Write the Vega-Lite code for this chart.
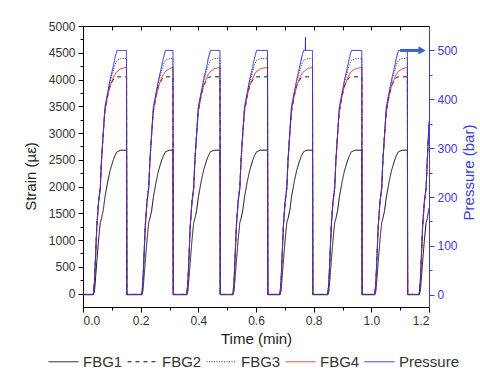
{
  "$schema": "https://vega.github.io/schema/vega-lite/v6.json",
  "width": 346,
  "height": 281,
  "autosize": {"type": "none"},
  "padding": {"left": 83, "top": 26, "right": 51, "bottom": 71},
  "background": "white",
  "config": {
    "view": {"stroke": null},
    "font": "Liberation Sans",
    "axis": {"grid": false, "labelFont": "Liberation Sans", "titleFont": "Liberation Sans", "tickColor": "#000", "domainColor": "#000", "labelFontSize": 12, "labelColor": "#333", "titleFontSize": 15, "titleFontWeight": "normal", "titleColor": "#222"},
    "legend": {"labelFont": "Liberation Sans"}
  },
  "datasets": {
    "s": [
      {"t": 0, "FBG1": -15, "FBG2": -15, "FBG3": -15, "FBG4": -15, "P": 0},
      {"t": 0.036, "FBG1": -15, "FBG2": -15, "FBG3": -15, "FBG4": -15, "P": 0},
      {"t": 0.040, "FBG1": 50, "FBG2": 230, "FBG3": 250, "FBG4": 220, "P": 30},
      {"t": 0.048, "FBG1": 600, "FBG2": 1280, "FBG3": 1300, "FBG4": 1250, "P": 140},
      {"t": 0.054, "FBG1": 1000, "FBG2": 1720, "FBG3": 1750, "FBG4": 1700, "P": 190},
      {"t": 0.060, "FBG1": 1330, "FBG2": 1980, "FBG3": 2000, "FBG4": 1950, "P": 220},
      {"t": 0.064, "FBG1": 1400, "FBG2": 2480, "FBG3": 2500, "FBG4": 2450, "P": 275},
      {"t": 0.070, "FBG1": 1550, "FBG2": 2980, "FBG3": 3000, "FBG4": 2950, "P": 330},
      {"t": 0.076, "FBG1": 1800, "FBG2": 3400, "FBG3": 3450, "FBG4": 3400, "P": 385},
      {"t": 0.086, "FBG1": 2100, "FBG2": 3700, "FBG3": 3750, "FBG4": 3700, "P": 415},
      {"t": 0.094, "FBG1": 2300, "FBG2": 3880, "FBG3": 3950, "FBG4": 3880, "P": 440},
      {"t": 0.104, "FBG1": 2480, "FBG2": 3990, "FBG3": 4150, "FBG4": 4020, "P": 465},
      {"t": 0.111, "FBG1": 2580, "FBG2": 4040, "FBG3": 4280, "FBG4": 4100, "P": 485},
      {"t": 0.118, "FBG1": 2650, "FBG2": 4050, "FBG3": 4360, "FBG4": 4150, "P": 500},
      {"t": 0.131, "FBG1": 2680, "FBG2": 4050, "FBG3": 4390, "FBG4": 4200, "P": 500},
      {"t": 0.151, "FBG1": 2680, "FBG2": 4050, "FBG3": 4400, "FBG4": 4230, "P": 500},
      {"t": 0.152, "FBG1": -15, "FBG2": -15, "FBG3": -15, "FBG4": -15, "P": 0},
      {"t": 0.204, "FBG1": -15, "FBG2": -15, "FBG3": -15, "FBG4": -15, "P": 0},
      {"t": 0.208, "FBG1": 50, "FBG2": 230, "FBG3": 250, "FBG4": 220, "P": 30},
      {"t": 0.216, "FBG1": 600, "FBG2": 1280, "FBG3": 1300, "FBG4": 1250, "P": 140},
      {"t": 0.222, "FBG1": 1000, "FBG2": 1720, "FBG3": 1750, "FBG4": 1700, "P": 190},
      {"t": 0.228, "FBG1": 1330, "FBG2": 1980, "FBG3": 2000, "FBG4": 1950, "P": 220},
      {"t": 0.232, "FBG1": 1400, "FBG2": 2480, "FBG3": 2500, "FBG4": 2450, "P": 275},
      {"t": 0.238, "FBG1": 1550, "FBG2": 2980, "FBG3": 3000, "FBG4": 2950, "P": 330},
      {"t": 0.244, "FBG1": 1800, "FBG2": 3400, "FBG3": 3450, "FBG4": 3400, "P": 385},
      {"t": 0.254, "FBG1": 2100, "FBG2": 3700, "FBG3": 3750, "FBG4": 3700, "P": 415},
      {"t": 0.262, "FBG1": 2300, "FBG2": 3880, "FBG3": 3950, "FBG4": 3880, "P": 440},
      {"t": 0.272, "FBG1": 2480, "FBG2": 3990, "FBG3": 4150, "FBG4": 4020, "P": 465},
      {"t": 0.279, "FBG1": 2580, "FBG2": 4040, "FBG3": 4280, "FBG4": 4100, "P": 485},
      {"t": 0.286, "FBG1": 2650, "FBG2": 4050, "FBG3": 4360, "FBG4": 4150, "P": 500},
      {"t": 0.299, "FBG1": 2680, "FBG2": 4050, "FBG3": 4390, "FBG4": 4200, "P": 500},
      {"t": 0.312, "FBG1": 2680, "FBG2": 4050, "FBG3": 4400, "FBG4": 4230, "P": 500},
      {"t": 0.313, "FBG1": -15, "FBG2": -15, "FBG3": -15, "FBG4": -15, "P": 0},
      {"t": 0.360, "FBG1": -15, "FBG2": -15, "FBG3": -15, "FBG4": -15, "P": 0},
      {"t": 0.364, "FBG1": 50, "FBG2": 230, "FBG3": 250, "FBG4": 220, "P": 30},
      {"t": 0.372, "FBG1": 600, "FBG2": 1280, "FBG3": 1300, "FBG4": 1250, "P": 140},
      {"t": 0.378, "FBG1": 1000, "FBG2": 1720, "FBG3": 1750, "FBG4": 1700, "P": 190},
      {"t": 0.384, "FBG1": 1330, "FBG2": 1980, "FBG3": 2000, "FBG4": 1950, "P": 220},
      {"t": 0.388, "FBG1": 1400, "FBG2": 2480, "FBG3": 2500, "FBG4": 2450, "P": 275},
      {"t": 0.394, "FBG1": 1550, "FBG2": 2980, "FBG3": 3000, "FBG4": 2950, "P": 330},
      {"t": 0.400, "FBG1": 1800, "FBG2": 3400, "FBG3": 3450, "FBG4": 3400, "P": 385},
      {"t": 0.410, "FBG1": 2100, "FBG2": 3700, "FBG3": 3750, "FBG4": 3700, "P": 415},
      {"t": 0.418, "FBG1": 2300, "FBG2": 3880, "FBG3": 3950, "FBG4": 3880, "P": 440},
      {"t": 0.428, "FBG1": 2480, "FBG2": 3990, "FBG3": 4150, "FBG4": 4020, "P": 465},
      {"t": 0.435, "FBG1": 2580, "FBG2": 4040, "FBG3": 4280, "FBG4": 4100, "P": 485},
      {"t": 0.442, "FBG1": 2650, "FBG2": 4050, "FBG3": 4360, "FBG4": 4150, "P": 500},
      {"t": 0.455, "FBG1": 2680, "FBG2": 4050, "FBG3": 4390, "FBG4": 4200, "P": 500},
      {"t": 0.475, "FBG1": 2680, "FBG2": 4050, "FBG3": 4400, "FBG4": 4230, "P": 500},
      {"t": 0.476, "FBG1": -15, "FBG2": -15, "FBG3": -15, "FBG4": -15, "P": 0},
      {"t": 0.520, "FBG1": -15, "FBG2": -15, "FBG3": -15, "FBG4": -15, "P": 0},
      {"t": 0.524, "FBG1": 50, "FBG2": 230, "FBG3": 250, "FBG4": 220, "P": 30},
      {"t": 0.532, "FBG1": 600, "FBG2": 1280, "FBG3": 1300, "FBG4": 1250, "P": 140},
      {"t": 0.538, "FBG1": 1000, "FBG2": 1720, "FBG3": 1750, "FBG4": 1700, "P": 190},
      {"t": 0.544, "FBG1": 1330, "FBG2": 1980, "FBG3": 2000, "FBG4": 1950, "P": 220},
      {"t": 0.548, "FBG1": 1400, "FBG2": 2480, "FBG3": 2500, "FBG4": 2450, "P": 275},
      {"t": 0.554, "FBG1": 1550, "FBG2": 2980, "FBG3": 3000, "FBG4": 2950, "P": 330},
      {"t": 0.560, "FBG1": 1800, "FBG2": 3400, "FBG3": 3450, "FBG4": 3400, "P": 385},
      {"t": 0.570, "FBG1": 2100, "FBG2": 3700, "FBG3": 3750, "FBG4": 3700, "P": 415},
      {"t": 0.578, "FBG1": 2300, "FBG2": 3880, "FBG3": 3950, "FBG4": 3880, "P": 440},
      {"t": 0.588, "FBG1": 2480, "FBG2": 3990, "FBG3": 4150, "FBG4": 4020, "P": 465},
      {"t": 0.595, "FBG1": 2580, "FBG2": 4040, "FBG3": 4280, "FBG4": 4100, "P": 485},
      {"t": 0.602, "FBG1": 2650, "FBG2": 4050, "FBG3": 4360, "FBG4": 4150, "P": 500},
      {"t": 0.615, "FBG1": 2680, "FBG2": 4050, "FBG3": 4390, "FBG4": 4200, "P": 500},
      {"t": 0.640, "FBG1": 2680, "FBG2": 4050, "FBG3": 4400, "FBG4": 4230, "P": 500},
      {"t": 0.641, "FBG1": -15, "FBG2": -15, "FBG3": -15, "FBG4": -15, "P": 0},
      {"t": 0.683, "FBG1": -15, "FBG2": -15, "FBG3": -15, "FBG4": -15, "P": 0},
      {"t": 0.687, "FBG1": 50, "FBG2": 230, "FBG3": 250, "FBG4": 220, "P": 30},
      {"t": 0.695, "FBG1": 600, "FBG2": 1280, "FBG3": 1300, "FBG4": 1250, "P": 140},
      {"t": 0.701, "FBG1": 1000, "FBG2": 1720, "FBG3": 1750, "FBG4": 1700, "P": 190},
      {"t": 0.707, "FBG1": 1330, "FBG2": 1980, "FBG3": 2000, "FBG4": 1950, "P": 220},
      {"t": 0.711, "FBG1": 1400, "FBG2": 2480, "FBG3": 2500, "FBG4": 2450, "P": 275},
      {"t": 0.717, "FBG1": 1550, "FBG2": 2980, "FBG3": 3000, "FBG4": 2950, "P": 330},
      {"t": 0.723, "FBG1": 1800, "FBG2": 3400, "FBG3": 3450, "FBG4": 3400, "P": 385},
      {"t": 0.733, "FBG1": 2100, "FBG2": 3700, "FBG3": 3750, "FBG4": 3700, "P": 415},
      {"t": 0.741, "FBG1": 2300, "FBG2": 3880, "FBG3": 3950, "FBG4": 3880, "P": 440},
      {"t": 0.751, "FBG1": 2480, "FBG2": 3990, "FBG3": 4150, "FBG4": 4020, "P": 465},
      {"t": 0.758, "FBG1": 2580, "FBG2": 4040, "FBG3": 4280, "FBG4": 4100, "P": 485},
      {"t": 0.765, "FBG1": 2650, "FBG2": 4050, "FBG3": 4360, "FBG4": 4150, "P": 500},
      {"t": 0.771, "FBG1": 2670, "FBG2": 4050, "FBG3": 4370, "FBG4": 4170, "P": 500},
      {"t": 0.7715, "FBG1": 2670, "FBG2": 4050, "FBG3": 4370, "FBG4": 4170, "P": 527},
      {"t": 0.772, "FBG1": 2670, "FBG2": 4050, "FBG3": 4370, "FBG4": 4170, "P": 500},
      {"t": 0.778, "FBG1": 2680, "FBG2": 4050, "FBG3": 4390, "FBG4": 4200, "P": 500},
      {"t": 0.796, "FBG1": 2680, "FBG2": 4050, "FBG3": 4400, "FBG4": 4230, "P": 500},
      {"t": 0.797, "FBG1": -15, "FBG2": -15, "FBG3": -15, "FBG4": -15, "P": 0},
      {"t": 0.849, "FBG1": -15, "FBG2": -15, "FBG3": -15, "FBG4": -15, "P": 0},
      {"t": 0.853, "FBG1": 50, "FBG2": 230, "FBG3": 250, "FBG4": 220, "P": 30},
      {"t": 0.861, "FBG1": 600, "FBG2": 1280, "FBG3": 1300, "FBG4": 1250, "P": 140},
      {"t": 0.867, "FBG1": 1000, "FBG2": 1720, "FBG3": 1750, "FBG4": 1700, "P": 190},
      {"t": 0.873, "FBG1": 1330, "FBG2": 1980, "FBG3": 2000, "FBG4": 1950, "P": 220},
      {"t": 0.877, "FBG1": 1400, "FBG2": 2480, "FBG3": 2500, "FBG4": 2450, "P": 275},
      {"t": 0.883, "FBG1": 1550, "FBG2": 2980, "FBG3": 3000, "FBG4": 2950, "P": 330},
      {"t": 0.889, "FBG1": 1800, "FBG2": 3400, "FBG3": 3450, "FBG4": 3400, "P": 385},
      {"t": 0.899, "FBG1": 2100, "FBG2": 3700, "FBG3": 3750, "FBG4": 3700, "P": 415},
      {"t": 0.907, "FBG1": 2300, "FBG2": 3880, "FBG3": 3950, "FBG4": 3880, "P": 440},
      {"t": 0.917, "FBG1": 2480, "FBG2": 3990, "FBG3": 4150, "FBG4": 4020, "P": 465},
      {"t": 0.924, "FBG1": 2580, "FBG2": 4040, "FBG3": 4280, "FBG4": 4100, "P": 485},
      {"t": 0.931, "FBG1": 2650, "FBG2": 4050, "FBG3": 4360, "FBG4": 4150, "P": 500},
      {"t": 0.944, "FBG1": 2680, "FBG2": 4050, "FBG3": 4390, "FBG4": 4200, "P": 500},
      {"t": 0.967, "FBG1": 2680, "FBG2": 4050, "FBG3": 4400, "FBG4": 4230, "P": 500},
      {"t": 0.968, "FBG1": -15, "FBG2": -15, "FBG3": -15, "FBG4": -15, "P": 0},
      {"t": 1.012, "FBG1": -15, "FBG2": -15, "FBG3": -15, "FBG4": -15, "P": 0},
      {"t": 1.016, "FBG1": 50, "FBG2": 230, "FBG3": 250, "FBG4": 220, "P": 30},
      {"t": 1.024, "FBG1": 600, "FBG2": 1280, "FBG3": 1300, "FBG4": 1250, "P": 140},
      {"t": 1.030, "FBG1": 1000, "FBG2": 1720, "FBG3": 1750, "FBG4": 1700, "P": 190},
      {"t": 1.036, "FBG1": 1330, "FBG2": 1980, "FBG3": 2000, "FBG4": 1950, "P": 220},
      {"t": 1.040, "FBG1": 1400, "FBG2": 2480, "FBG3": 2500, "FBG4": 2450, "P": 275},
      {"t": 1.046, "FBG1": 1550, "FBG2": 2980, "FBG3": 3000, "FBG4": 2950, "P": 330},
      {"t": 1.052, "FBG1": 1800, "FBG2": 3400, "FBG3": 3450, "FBG4": 3400, "P": 385},
      {"t": 1.062, "FBG1": 2100, "FBG2": 3700, "FBG3": 3750, "FBG4": 3700, "P": 415},
      {"t": 1.070, "FBG1": 2300, "FBG2": 3880, "FBG3": 3950, "FBG4": 3880, "P": 440},
      {"t": 1.080, "FBG1": 2480, "FBG2": 3990, "FBG3": 4150, "FBG4": 4020, "P": 465},
      {"t": 1.087, "FBG1": 2580, "FBG2": 4040, "FBG3": 4280, "FBG4": 4100, "P": 485},
      {"t": 1.094, "FBG1": 2650, "FBG2": 4050, "FBG3": 4360, "FBG4": 4150, "P": 500},
      {"t": 1.107, "FBG1": 2680, "FBG2": 4050, "FBG3": 4390, "FBG4": 4200, "P": 500},
      {"t": 1.125, "FBG1": 2680, "FBG2": 4050, "FBG3": 4400, "FBG4": 4230, "P": 500},
      {"t": 1.126, "FBG1": -15, "FBG2": -15, "FBG3": -15, "FBG4": -15, "P": 0},
      {"t": 1.166, "FBG1": -15, "FBG2": -15, "FBG3": -15, "FBG4": -15, "P": 0},
      {"t": 1.170, "FBG1": 50, "FBG2": 230, "FBG3": 250, "FBG4": 220, "P": 30},
      {"t": 1.178, "FBG1": 600, "FBG2": 1280, "FBG3": 1300, "FBG4": 1250, "P": 140},
      {"t": 1.184, "FBG1": 1000, "FBG2": 1720, "FBG3": 1750, "FBG4": 1700, "P": 190},
      {"t": 1.190, "FBG1": 1330, "FBG2": 1980, "FBG3": 2000, "FBG4": 1950, "P": 220},
      {"t": 1.194, "FBG1": 1400, "FBG2": 2480, "FBG3": 2500, "FBG4": 2450, "P": 275},
      {"t": 1.200, "FBG1": 1600, "FBG2": 3150, "FBG3": 3200, "FBG4": 3100, "P": 355}
    ],
    "arrow": [{"t": 1.100, "t2": 1.168, "th": 1.176, "p": 500}]
  },
  "layer": [
    {
      "layer": [
        {
          "data": {"name": "s"},
          "transform": [{"fold": ["FBG1", "FBG2", "FBG3", "FBG4"], "as": ["series", "value"]}],
          "mark": {"type": "line", "strokeWidth": 1, "clip": true},
          "encoding": {
            "x": {"field": "t", "type": "quantitative", "scale": {"domain": [0, 1.2], "nice": false, "zero": false},
                  "axis": {"orient": "bottom", "values": [0, 0.2, 0.4, 0.6, 0.8, 1.0, 1.2], "format": ".1f", "tickSize": 5, "labelPadding": 3, "title": "Time (min)", "titleY": 31, "titleBaseline": "middle"}},
            "y": {"field": "value", "type": "quantitative", "scale": {"domain": [-250, 5000], "nice": false, "zero": false},
                  "axis": {"orient": "left", "values": [0, 500, 1000, 1500, 2000, 2500, 3000, 3500, 4000, 4500, 5000], "format": "d", "tickSize": 5, "labelPadding": 3, "title": "Strain (µε)", "titleAngle": 270, "titleX": -53, "titleY": 150, "titleBaseline": "middle", "titleAlign": "center"}},
            "color": {"field": "series", "type": "nominal",
                      "scale": {"domain": ["FBG1", "FBG2", "FBG3", "FBG4", "Pressure"], "range": ["#111111", "#111111", "#333333", "#e4312b", "#2b2bd9"]},
                      "legend": {"title": null, "orient": "none", "direction": "horizontal", "legendX": -35, "legendY": 320, "symbolType": "stroke", "symbolSize": 900, "symbolStrokeWidth": 1, "labelFontSize": 15, "labelColor": "#333", "labelOffset": 4, "columnPadding": 2, "padding": 0}},
            "strokeDash": {"field": "series", "type": "nominal",
                      "scale": {"domain": ["FBG1", "FBG2", "FBG3", "FBG4", "Pressure"], "range": [[1, 0], [4, 4], [1, 1.5], [1, 0], [1, 0]]},
                      "legend": {"title": null, "orient": "none", "direction": "horizontal", "legendX": -35, "legendY": 320, "symbolType": "stroke", "symbolSize": 900, "symbolStrokeWidth": 1, "labelFontSize": 15, "labelColor": "#333", "labelOffset": 4, "columnPadding": 2, "padding": 0}}
          }
        },
        {
          "data": {"name": "s"},
          "mark": {"type": "point", "opacity": 0},
          "encoding": {
            "x": {"field": "t", "type": "quantitative", "scale": {"domain": [0, 1.2], "nice": false, "zero": false},
                  "axis": {"orient": "bottom", "values": [0.1, 0.3, 0.5, 0.7, 0.9, 1.1], "labels": false, "domain": false, "tickSize": 3, "title": null}},
            "y": {"field": "FBG1", "type": "quantitative", "scale": {"domain": [-250, 5000], "nice": false, "zero": false},
                  "axis": {"orient": "left", "values": [250, 750, 1250, 1750, 2250, 2750, 3250, 3750, 4250, 4750], "labels": false, "domain": false, "tickSize": 3, "title": null}}
          }
        },
        {
          "data": {"name": "s"},
          "mark": {"type": "point", "opacity": 0},
          "encoding": {
            "x": {"field": "t", "type": "quantitative", "scale": {"domain": [0, 1.2], "nice": false, "zero": false},
                  "axis": {"orient": "top", "values": [0, 0.1, 0.2, 0.3, 0.4, 0.5, 0.6, 0.7, 0.8, 0.9, 1.0, 1.1, 1.2], "labels": false, "tickSize": -4, "title": null}},
            "y": {"field": "FBG1", "type": "quantitative", "scale": {"domain": [-250, 5000], "nice": false, "zero": false}, "axis": null}
          }
        }
      ],
      "resolve": {"axis": {"x": "independent", "y": "independent"}}
    },
    {
      "layer": [
        {
          "data": {"name": "s"},
          "mark": {"type": "line", "strokeWidth": 1, "clip": true},
          "encoding": {
            "x": {"field": "t", "type": "quantitative", "scale": {"domain": [0, 1.2], "nice": false, "zero": false}, "axis": null},
            "y": {"field": "P", "type": "quantitative", "scale": {"domain": [-25, 550], "nice": false, "zero": false},
                  "axis": {"orient": "right", "values": [0, 100, 200, 300, 400, 500], "tickSize": 5, "labelPadding": 3, "labelColor": "#3c3cd8", "tickColor": "#3c3cd8", "domainColor": "#3c3cd8", "title": "Pressure (bar)", "titleColor": "#3c3cd8", "titleAngle": 270, "titleX": 39, "titleY": 146, "titleBaseline": "middle", "titleAlign": "center"}},
            "color": {"datum": "Pressure", "type": "nominal",
                      "scale": {"domain": ["FBG1", "FBG2", "FBG3", "FBG4", "Pressure"], "range": ["#111111", "#111111", "#333333", "#e4312b", "#2b2bd9"]},
                      "legend": {"title": null, "orient": "none", "direction": "horizontal", "legendX": -35, "legendY": 320, "symbolType": "stroke", "symbolSize": 900, "symbolStrokeWidth": 1, "labelFontSize": 15, "labelColor": "#333", "labelOffset": 4, "columnPadding": 2, "padding": 0}},
            "strokeDash": {"datum": "Pressure", "type": "nominal",
                      "scale": {"domain": ["FBG1", "FBG2", "FBG3", "FBG4", "Pressure"], "range": [[1, 0], [4, 4], [1, 1.5], [1, 0], [1, 0]]},
                      "legend": {"title": null, "orient": "none", "direction": "horizontal", "legendX": -35, "legendY": 320, "symbolType": "stroke", "symbolSize": 900, "symbolStrokeWidth": 1, "labelFontSize": 15, "labelColor": "#333", "labelOffset": 4, "columnPadding": 2, "padding": 0}}
          }
        },
        {
          "data": {"name": "s"},
          "mark": {"type": "point", "opacity": 0},
          "encoding": {
            "x": {"field": "t", "type": "quantitative", "scale": {"domain": [0, 1.2], "nice": false, "zero": false}, "axis": null},
            "y": {"field": "P", "type": "quantitative", "scale": {"domain": [-25, 550], "nice": false, "zero": false},
                  "axis": {"orient": "right", "values": [50, 150, 250, 350, 450], "labels": false, "domain": false, "tickSize": 3, "tickColor": "#3c3cd8", "title": null}}
          }
        },
        {
          "data": {"name": "arrow"},
          "mark": {"type": "rule", "strokeWidth": 3, "color": "#3a62c0"},
          "encoding": {
            "x": {"field": "t", "type": "quantitative", "scale": {"domain": [0, 1.2], "nice": false, "zero": false}, "axis": null},
            "x2": {"field": "t2"},
            "y": {"field": "p", "type": "quantitative", "scale": {"domain": [-25, 550], "nice": false, "zero": false}, "axis": null}
          }
        },
        {
          "data": {"name": "arrow"},
          "mark": {"type": "point", "shape": "triangle-right", "filled": true, "size": 70, "opacity": 1, "color": "#3a62c0"},
          "encoding": {
            "x": {"field": "th", "type": "quantitative", "scale": {"domain": [0, 1.2], "nice": false, "zero": false}, "axis": null},
            "y": {"field": "p", "type": "quantitative", "scale": {"domain": [-25, 550], "nice": false, "zero": false}, "axis": null}
          }
        }
      ],
      "resolve": {"axis": {"x": "independent", "y": "independent"}}
    }
  ],
  "resolve": {"scale": {"y": "independent"}, "axis": {"x": "independent", "y": "independent"}}
}
